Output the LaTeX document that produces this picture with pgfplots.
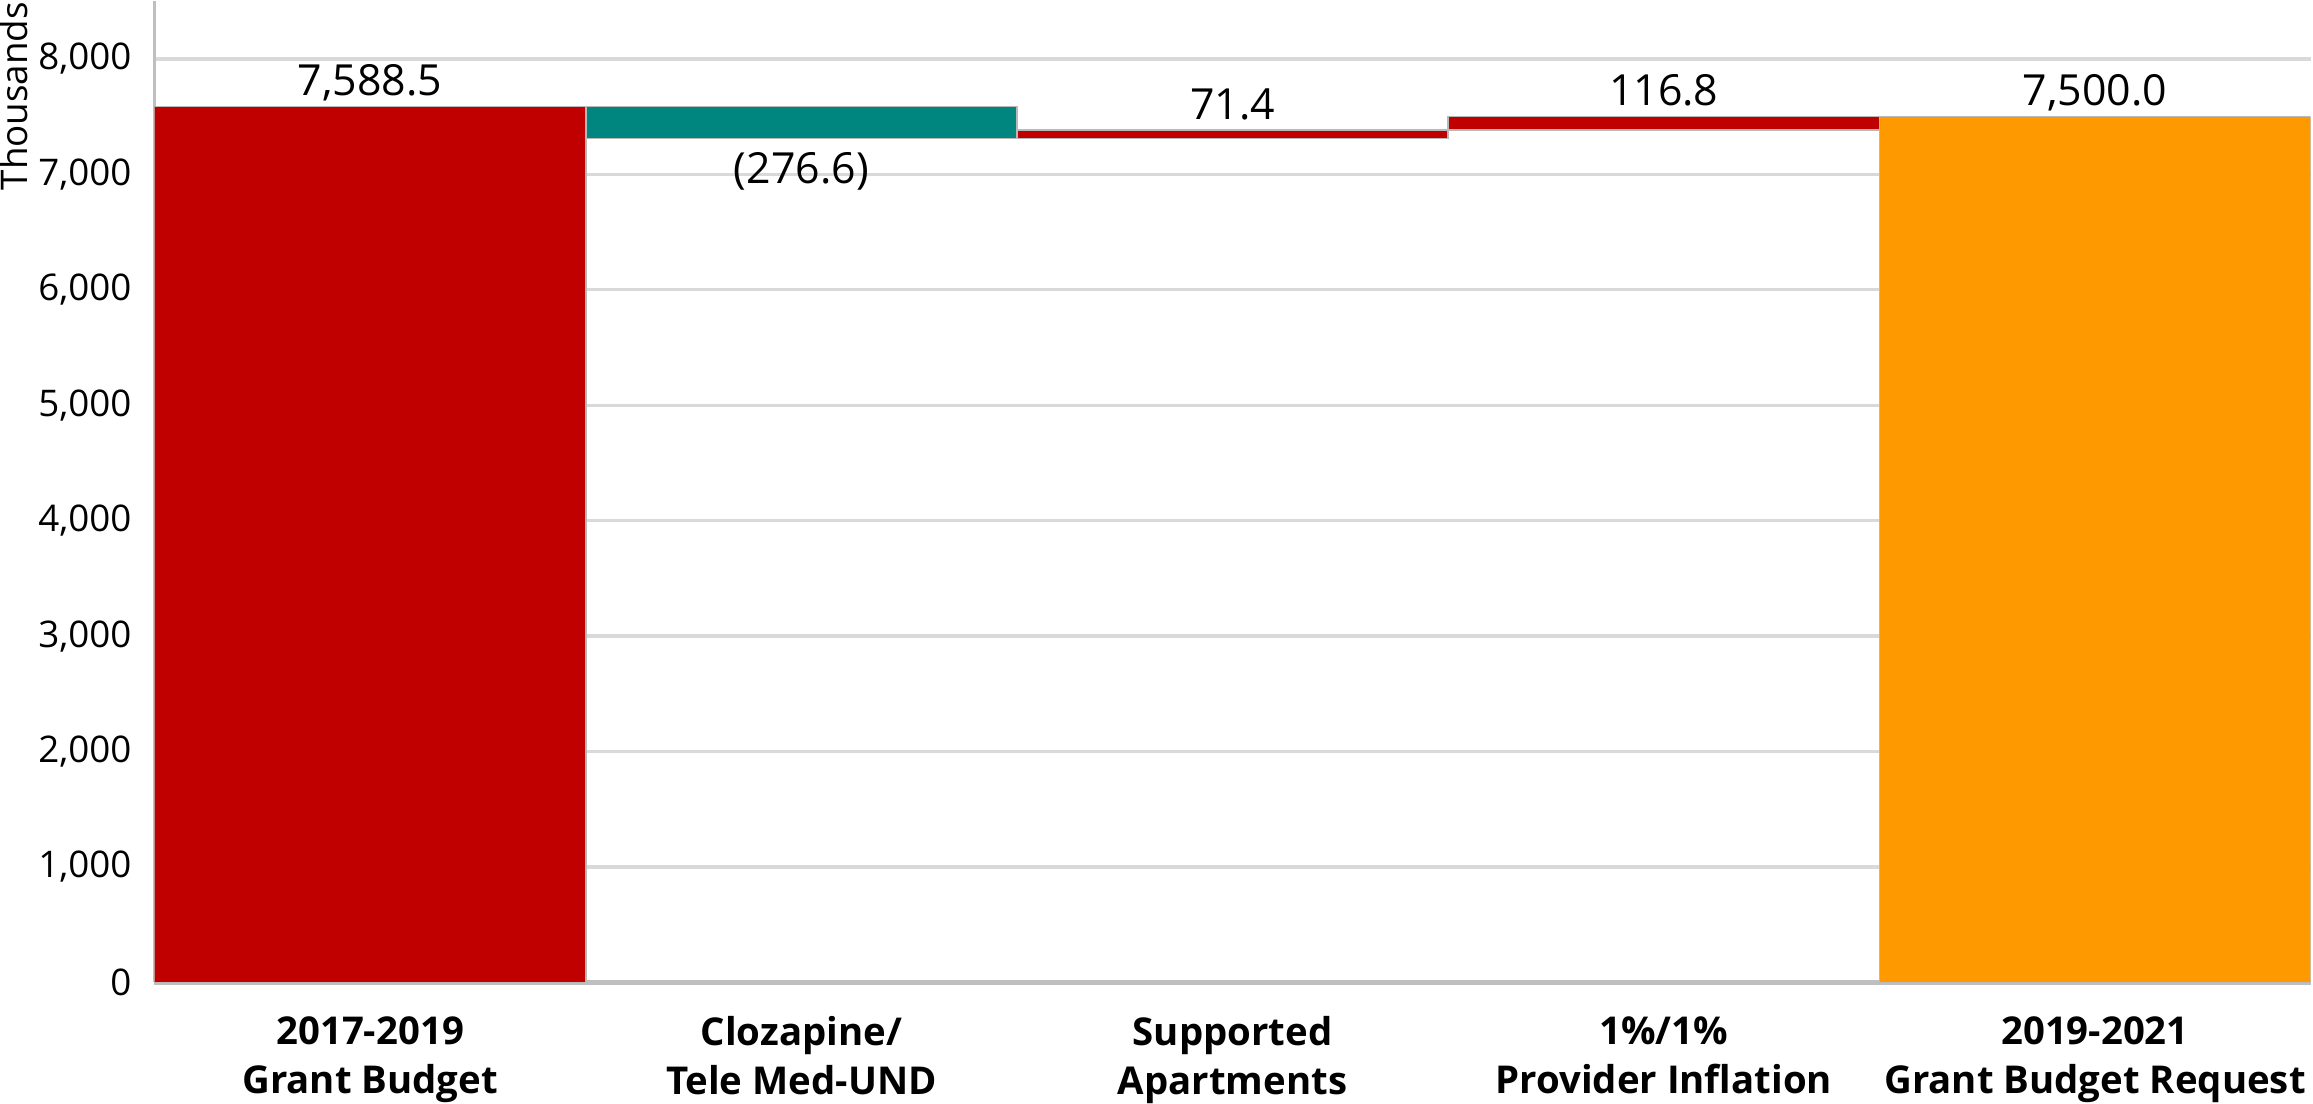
\documentclass[border=0pt]{standalone}
\usepackage{pgfplots}
\pgfplotsset{compat=1.18}
\usepackage{fontspec}
\setmainfont{Open Sans}

\definecolor{wfred}{HTML}{C00000}
\definecolor{wfteal}{HTML}{00857F}
\definecolor{wforange}{HTML}{FF9900}
\definecolor{gridgray}{HTML}{D9D9D9}
\definecolor{axgray}{HTML}{BFBFBF}

\pgfplotsset{
  wfframe/.style={
    width=18.57cm, height=8.45cm, scale only axis,
    xmin=-0.5, xmax=4.5, ymin=0, ymax=8500,
    enlarge x limits=false, enlarge y limits=false,
  },
}

\begin{document}
\begin{tikzpicture}
\begin{axis}[
  wfframe,
  ybar stacked, bar width=1,
  xtick={0,1,2,3,4},
  xticklabels={{2017-2019\\Grant Budget},{Clozapine/\\Tele Med-UND},{Supported\\Apartments},{1\%/1\%\\Provider Inflation},{2019-2021\\Grant Budget Request}},
  xticklabel style={font=\bfseries\fontsize{9.4}{12}\selectfont, align=center, inner sep=0pt, yshift=-6pt},
  ytick={0,1000,...,8000},
  scaled y ticks=false,
  yticklabel style={font=\fontsize{9}{11}\selectfont, /pgf/number format/.cd, 1000 sep={,}, assume math mode=true},
  ylabel={Thousands},
  ylabel style={font=\fontsize{9}{11}\selectfont, at={([xshift=-1.08cm]rel axis cs:0,1)}, anchor=south east, inner sep=0pt},
  ymajorgrids, grid style={gridgray, line width=0.8pt},
  axis x line=bottom, axis y line=left,
  x axis line style={-, axgray, line width=1.2pt},
  y axis line style={-, axgray, line width=0.6pt},
  tick style={draw=none},
]
% invisible base of the floating bars
\addplot[draw=none, fill=none]
  coordinates {(0,0) (1,7311.9) (2,7311.9) (3,7383.3) (4,0)};
\addplot[fill=wfred, draw=gray!55, line width=0.4pt]
  coordinates {(0,7588.5) (1,0) (2,71.4) (3,116.8) (4,0)};
\addplot[fill=wfteal, draw=gray!55, line width=0.4pt]
  coordinates {(0,0) (1,276.6) (2,0) (3,0) (4,0)};
\addplot[fill=wforange, draw=gray!55, line width=0.4pt]
  coordinates {(0,0) (1,0) (2,0) (3,0) (4,7500)};
\end{axis}
% value labels, on an axis with the same frame
\begin{axis}[
  wfframe, hide axis,
  nodes near coords, point meta=explicit symbolic,
  every node near coord/.append style={font=\fontsize{10.5}{12}\selectfont, text=black},
]
\addplot[draw=none, mark=none, every node near coord/.append style={anchor=south, text depth=0pt, inner sep=2.5pt}]
  coordinates {(0,7588.5)[7{,}588.5] (2,7383.3)[71.4] (3,7500.1)[116.8] (4,7500)[7{,}500.0]};
\addplot[draw=none, mark=none, every node near coord/.append style={anchor=north}]
  coordinates {(1,7311.9)[(276.6)]};
\end{axis}
\end{tikzpicture}
\end{document}
